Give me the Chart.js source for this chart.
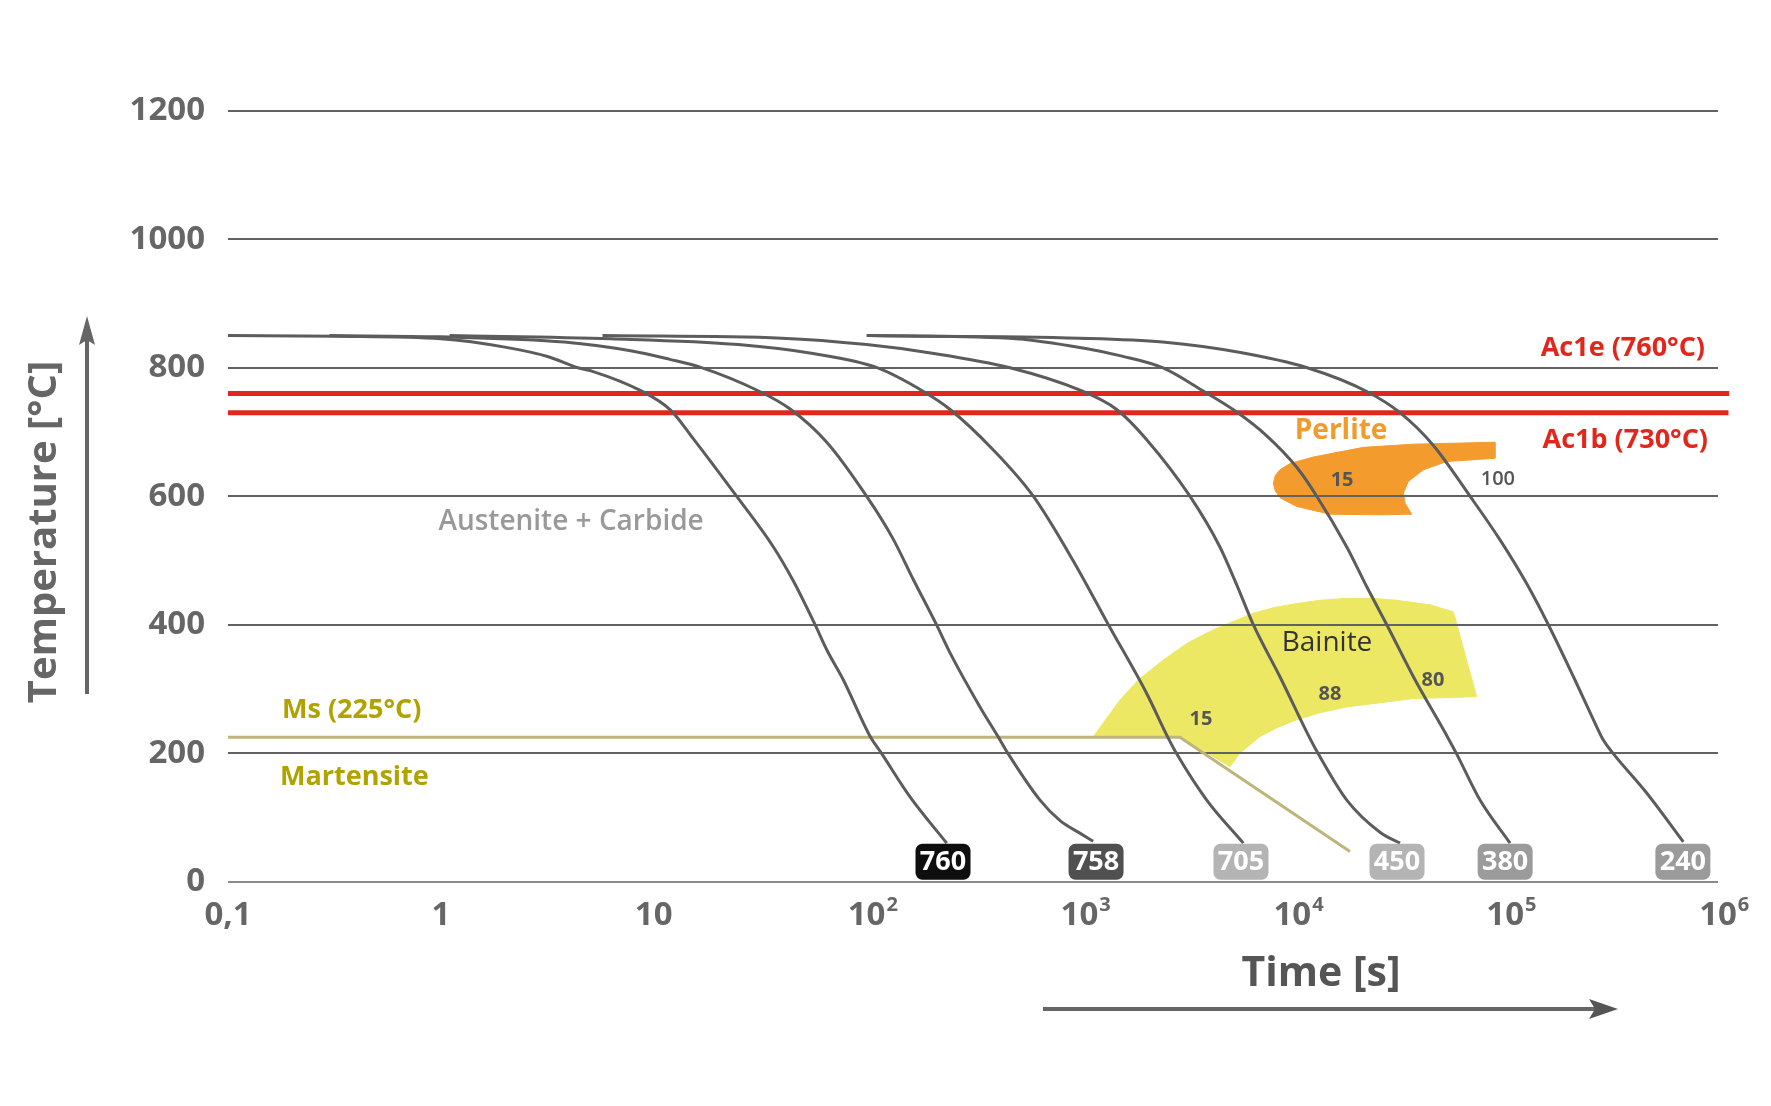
<!DOCTYPE html>
<html>
<head>
<meta charset="utf-8">
<script src="https://cdn.jsdelivr.net/npm/chart.js@4.4.1/dist/chart.umd.min.js"></script>
<style>
html,body{margin:0;padding:0;background:#ffffff;}
canvas{display:block;}
</style>
</head>
<body>
<canvas id="c" width="1771" height="1106"></canvas>
<script>
// ---------------- DATA ----------------
const yTickValues = [0, 200, 400, 600, 800, 1000, 1200];
const xTickValues = [0.1, 1, 10, 100, 1000, 10000, 100000, 1000000];
const xTickBase = ['0,1', '1', '10', '10', '10', '10', '10', '10'];
const xTickExp = ['', '', '', '2', '3', '4', '5', '6'];

// cooling curves: time [s] and temperature [°C]
const curve760Time = [0.1, 0.32, 1, 2, 3.2, 4.4, 5.2, 8.6, 12, 15.3, 24.5, 36.5, 45.3, 57.3, 65, 77.8, 104, 118, 160, 238];
const curve760Temp = [850, 849, 845, 832, 817, 800, 794, 765, 734, 690, 600, 521, 468, 400, 361, 314, 226, 199, 132, 60];

const curve758Time = [0.3, 1, 3.8, 7.9, 11.9, 16.5, 31.5, 43.6, 65, 100, 133, 166, 213, 246, 341, 416, 463, 653, 811, 1000, 1160];
const curve758Temp = [850, 848, 840, 826, 813, 801, 763, 736, 684, 600, 534, 470, 400, 357, 272, 225, 199, 127, 95, 76, 63];

const curve705Time = [1.1, 6.3, 25, 56, 112, 185, 247, 394, 607, 933, 1368, 2070, 2618, 2864, 3963, 5888];
const curve705Temp = [850, 845, 836, 822, 800, 763, 735, 672, 600, 500, 400, 293, 223, 199, 127, 60];

const curve450Time = [5.75, 40, 100, 200, 472, 1007, 1496, 2070, 3304, 4571, 5483, 6561, 8750, 12106, 13243, 18030, 25823, 32063];
const curve450Temp = [850, 846, 836, 823, 800, 765, 735, 688, 600, 521, 462, 400, 319, 223, 199, 127, 77, 60];

const curve380Time = [100, 468, 1072, 1585, 2455, 3802, 5483, 7586, 10495, 13032, 18030, 22387, 27797, 37068, 54075, 59156, 76208, 105439];
const curve380Temp = [850, 846, 830, 818, 800, 764, 731, 694, 645, 600, 521, 459, 400, 319, 223, 199, 127, 60];

const curve240Time = [105, 1000, 2460, 5623, 11749, 22387, 32063, 46026, 68391, 94624, 126183, 159588, 209411, 260016, 289734, 322849, 462381, 687068];
const curve240Temp = [850, 846, 840, 824, 800, 763, 730, 679, 600, 532, 464, 400, 319, 252, 220, 199, 138, 62];

const curveLabels = ['760', '758', '705', '450', '380', '240'];
const curveLabelTime = [228.6, 1197, 5741, 31050, 100000, 683900];
const curveLabelTemp = 31;

// critical temperatures
const ac1eTime = [0.1, 1127000];
const ac1eTemp = [760, 760];
const ac1bTime = [0.1, 1120000];
const ac1bTemp = [730, 730];

// martensite start line
const msTime = [0.1, 2965, 18660];
const msTemp = [225, 225, 47];

// perlite region outline
const perliteTime = [8147, 8318, 8750, 9772, 12560, 21580, 37068, 89540, 89540, 53090, 41300, 35080, 33270, 33880, 36390, 25820, 15030, 10500, 8810, 8318, 8147];
const perliteTemp = [620, 632, 641, 651, 661, 676, 681, 684, 659, 654, 641, 623, 605, 589, 572, 571, 572, 584, 597, 608, 620];

// bainite region outline
const bainiteTime = [1164, 1552, 1905, 2477, 3236, 4256, 6561, 8318, 10495, 13490, 18030, 23990, 30970, 44360, 57150, 73450, 37070, 18030, 13490, 10500, 8511, 7047, 5675, 5093, 2965, 1164];
const bainiteTemp = [226, 283, 315, 345, 372, 392, 418, 427, 433, 438, 441, 441, 438, 431, 420, 288, 285, 272, 263, 252, 240, 226, 200, 179, 226, 226];

// text notes inside the plot (time, temperature)
const noteText = ['Austenite + Carbide', 'Perlite', '15', '100', 'Bainite', '15', '88', '80', 'Ac1e (760°C)', 'Ac1b (730°C)', 'Ms (225°C)', 'Martensite'];
const noteTime = [4.09, 16950, 17140, 92470, 14560, 3724, 15030, 45810, 868900, 897500, 0.1795, 0.1754];
const noteTemp = [560, 701, 624, 627, 371, 253, 291, 314, 830, 687, 266, 163];

// ---------------- STYLES ----------------
const FONT = '"Open Sans", "Noto Sans", sans-serif';
const noteStyle = [
  {font: '600 28px ' + FONT, color: '#999999', align: 'center'},
  {font: '700 28px ' + FONT, color: '#f29b2d', align: 'center'},
  {font: '700 20px ' + FONT, color: '#555555', align: 'center'},
  {font: '600 20px ' + FONT, color: '#555555', align: 'center'},
  {font: '500 28px ' + FONT, color: '#333333', align: 'center'},
  {font: '700 20px ' + FONT, color: '#555555', align: 'center'},
  {font: '700 20px ' + FONT, color: '#555555', align: 'center'},
  {font: '700 20px ' + FONT, color: '#555555', align: 'center'},
  {font: '700 27px ' + FONT, color: '#e3261b', align: 'right'},
  {font: '700 27px ' + FONT, color: '#e3261b', align: 'right'},
  {font: '700 27px ' + FONT, color: '#b0a300', align: 'left'},
  {font: '700 27px ' + FONT, color: '#b0a300', align: 'left'}
];
const labelBg = ['#0e0e0e', '#505050', '#b4b4b4', '#b4b4b4', '#9b9b9b', '#9b9b9b'];
const gridColor = '#626262';
const gridZeroColor = '#8c8c8c';

function pts(ts, vs) { return ts.map((t, i) => ({x: t, y: vs[i]})); }

const curveTimes = [curve760Time, curve758Time, curve705Time, curve450Time, curve380Time, curve240Time];
const curveTemps = [curve760Temp, curve758Temp, curve705Temp, curve450Temp, curve380Temp, curve240Temp];

const datasets = [];
curveLabels.forEach((lab, i) => {
  datasets.push({
    label: 'curve ' + lab, data: pts(curveTimes[i], curveTemps[i]),
    borderColor: '#5c5c5c', borderWidth: 3, pointRadius: 0, fill: false,
    cubicInterpolationMode: 'monotone', order: 1
  });
});
datasets.push({label: 'Ac1e', data: pts(ac1eTime, ac1eTemp), borderColor: '#e3261b', borderWidth: 5, pointRadius: 0, fill: false, clip: false, order: 2});
datasets.push({label: 'Ac1b', data: pts(ac1bTime, ac1bTemp), borderColor: '#e3261b', borderWidth: 5, pointRadius: 0, fill: false, clip: false, order: 2});
datasets.push({label: 'Ms', data: pts(msTime, msTemp), borderColor: '#bdb57a', borderWidth: 3, pointRadius: 0, fill: false, tension: 0, order: 3});
datasets.push({label: 'Bainite', data: pts(bainiteTime, bainiteTemp), borderColor: '#ece863', backgroundColor: '#ece863', borderWidth: 1, pointRadius: 0, fill: 'shape', tension: 0, order: 10});
datasets.push({label: 'Perlite', data: pts(perliteTime, perliteTemp), borderColor: '#f39c2d', backgroundColor: '#f39c2d', borderWidth: 1, pointRadius: 0, fill: 'shape', tension: 0, order: 11});

const gridOverRegions = {
  id: 'gridOverRegions',
  afterDatasetDraw(chart, args) {
    if (chart.data.datasets[args.index].label !== 'Bainite') return;
    const {ctx, chartArea, scales} = chart;
    ctx.save();
    yTickValues.forEach(v => {
      const py = Math.round(scales.y.getPixelForValue(v));
      ctx.strokeStyle = v === 0 ? gridZeroColor : gridColor;
      ctx.lineWidth = 2;
      ctx.beginPath();
      ctx.moveTo(chartArea.left, py);
      ctx.lineTo(chartArea.right, py);
      ctx.stroke();
    });
    ctx.restore();
  }
};

const decorations = {
  id: 'decorations',
  afterDatasetsDraw(chart) {
    const {ctx, scales} = chart;
    const xs = scales.x, ys = scales.y;
    ctx.save();
    noteText.forEach((t, i) => {
      ctx.font = noteStyle[i].font;
      ctx.fillStyle = noteStyle[i].color;
      ctx.textAlign = noteStyle[i].align;
      ctx.textBaseline = 'middle';
      ctx.fillText(t, xs.getPixelForValue(noteTime[i]), ys.getPixelForValue(noteTemp[i]));
    });
    curveLabels.forEach((lab, i) => {
      const cx = xs.getPixelForValue(curveLabelTime[i]);
      const cy = ys.getPixelForValue(curveLabelTemp);
      ctx.fillStyle = labelBg[i];
      ctx.beginPath();
      ctx.roundRect(cx - 27.5, cy - 18, 55, 36, 7);
      ctx.fill();
      ctx.fillStyle = '#ffffff';
      ctx.font = '700 27px ' + FONT;
      ctx.textAlign = 'center';
      ctx.textBaseline = 'middle';
      ctx.fillText(lab, cx, cy + 1);
    });
    ctx.restore();
  },
  afterDraw(chart) {
    const {ctx, chartArea, scales} = chart;
    const xs = scales.x;
    ctx.save();
    const ly = chartArea.bottom + 34;
    xTickValues.forEach((v, i) => {
      const px = xs.getPixelForValue(v);
      ctx.fillStyle = '#666666';
      ctx.font = '700 33px ' + FONT;
      ctx.textBaseline = 'middle';
      ctx.textAlign = 'center';
      ctx.fillText(xTickBase[i], px, ly);
      if (xTickExp[i]) {
        const w = ctx.measureText(xTickBase[i]).width;
        ctx.font = '700 20px ' + FONT;
        ctx.textAlign = 'left';
        ctx.fillText(xTickExp[i], px + w / 2 + 1, ly - 10);
      }
    });
    // y axis title
    ctx.fillStyle = '#666666';
    ctx.font = '700 40px ' + FONT;
    ctx.textAlign = 'center';
    ctx.textBaseline = 'middle';
    ctx.save();
    ctx.translate(45, 532);
    ctx.rotate(-Math.PI / 2);
    ctx.fillText('Temperature [°C]', 0, 0);
    ctx.restore();
    // y arrow
    ctx.strokeStyle = '#666666';
    ctx.fillStyle = '#666666';
    ctx.lineWidth = 4;
    ctx.beginPath(); ctx.moveTo(87, 694); ctx.lineTo(87, 335); ctx.stroke();
    ctx.beginPath(); ctx.moveTo(87, 316); ctx.lineTo(95, 345); ctx.lineTo(87, 340); ctx.lineTo(79, 345); ctx.closePath(); ctx.fill();
    // x axis title
    ctx.fillStyle = '#555555';
    ctx.font = '700 41px ' + FONT;
    ctx.fillText('Time [s]', 1321, 974);
    // x arrow
    ctx.beginPath(); ctx.moveTo(1043, 1009); ctx.lineTo(1600, 1009); ctx.stroke();
    ctx.beginPath(); ctx.moveTo(1618, 1009); ctx.lineTo(1589, 999); ctx.lineTo(1595, 1009); ctx.lineTo(1589, 1019); ctx.closePath(); ctx.fill();
    ctx.restore();
  }
};

Chart.defaults.font.family = FONT;

new Chart(document.getElementById('c'), {
  type: 'line',
  data: {datasets: datasets},
  options: {
    responsive: false,
    animation: false,
    devicePixelRatio: 1,
    layout: {padding: {left: 0, right: 53, top: 110.7, bottom: 0}},
    plugins: {legend: {display: false}, tooltip: {enabled: false}},
    scales: {
      x: {
        type: 'logarithmic', min: 0.1, max: 1000000,
        afterBuildTicks: s => { s.ticks = xTickValues.map(v => ({value: v})); },
        ticks: {display: false},
        grid: {display: false, drawTicks: false},
        border: {display: false},
        afterFit: s => { s.height = 1106 - 881.7; }
      },
      y: {
        type: 'linear', min: 0, max: 1200,
        afterBuildTicks: s => { s.ticks = yTickValues.map(v => ({value: v})); },
        ticks: {padding: 23, color: '#666666', font: {family: FONT, size: 33, weight: '700'}, callback: v => String(v)},
        grid: {color: c => (c.tick && c.tick.value === 0) ? gridZeroColor : gridColor, lineWidth: 2, drawTicks: false},
        border: {display: false},
        afterFit: s => { s.width = 228; }
      }
    }
  },
  plugins: [gridOverRegions, decorations]
});
</script>
</body>
</html>
